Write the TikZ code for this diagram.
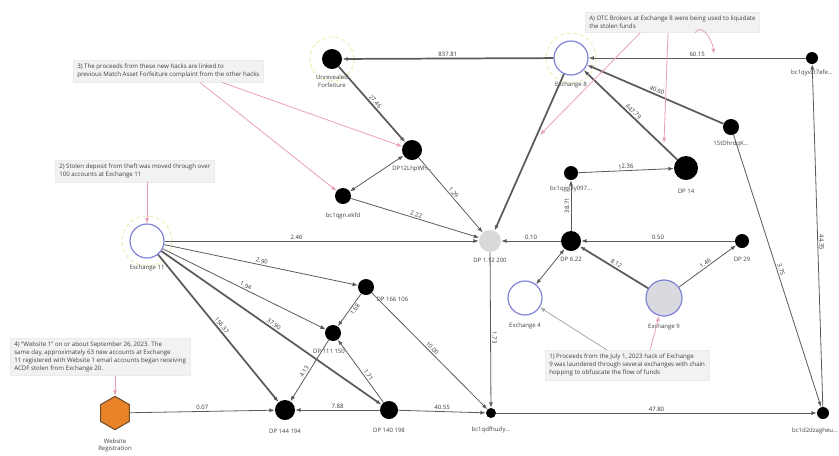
\documentclass[tikz,border=0pt]{standalone}
\usepackage{fontspec}
\setmainfont{Open Sans}
\usetikzlibrary{arrows.meta,shapes.geometric}
\definecolor{edgec}{HTML}{5A5A5A}
\definecolor{pinkl}{HTML}{E8A0B4}
\definecolor{exb}{HTML}{7F83D6}
\definecolor{haloc}{HTML}{F0EEB8}
\definecolor{hexo}{HTML}{E8832A}
\definecolor{notebg}{HTML}{F2F2F2}
\definecolor{gfill}{HTML}{D9D9DF}
\begin{document}
\begin{tikzpicture}[x=0.75pt,y=-0.75pt,
 dot/.style={circle,fill=black,inner sep=0pt,minimum size=#1},
 exc/.style={circle,draw=exb,line width=0.9pt,fill=white,inner sep=0pt,minimum size=25.5pt},
 nl/.style={font=\fontsize{4.5}{5.5}\selectfont,text=black!75,align=center},
 e/.style={draw=edgec,line width=0.6pt,-{Latex[length=4pt,width=3pt]}},
 et/.style={e,line width=1.3pt},
 el/.style={font=\fontsize{4.5}{5}\selectfont,sloped,above,inner sep=1pt,text=black!80},
 note/.style={fill=notebg,draw=black!8,font=\fontsize{4.6}{5.8}\selectfont,align=left,anchor=north west,inner sep=3pt,text=black!75},
 pk/.style={draw=pinkl,line width=0.6pt,-{Latex[length=4pt,width=3pt]}},
 halo/.style={draw=haloc,line width=0.8pt,dash pattern=on 3pt off 2pt}
]
\useasboundingbox (0,0) rectangle (839,455);

% halos
\draw[halo] (332,59) circle (22);
\draw[halo] (571,58) circle (25);
\draw[halo] (147,241) circle (25);

% nodes
\node[dot=15pt,label={[nl,label distance=1pt]below:Unrevealed\\Forfeiture}] (forf) at (332,59) {};
\node[exc,label={[nl,label distance=1pt]below:Exchange 8}] (ex8) at (571,58) {};
\node[dot=9pt,label={[nl,label distance=1pt]below:bc1qyvzt7efe...}] (yv) at (812,58) {};
\node[dot=12pt,label={[nl,label distance=1pt]below:15tDhrdqK...}] (td) at (731,127) {};
\node[dot=18pt,label={[nl,label distance=3pt]below:DP 14}] (dp14) at (686,168) {};
\node[dot=15pt,label={[nl,label distance=1pt]below:DP12LhpWh...}] (dp12) at (412,150) {};
\node[dot=12pt,label={[nl,label distance=3pt]below:bc1qgn.ekfd}] (gn) at (343,196) {};
\node[circle,fill=black!15,inner sep=0pt,minimum size=16.5pt,label={[nl,label distance=1pt]below:DP 1.12 200}] (dp112) at (490,241) {};
\node[dot=10.5pt,label={[nl,label distance=1pt]below:bc1qgg3y097...}] (gg) at (571,173) {};
\node[dot=15pt,label={[nl,label distance=1pt]below:DP 6.22}] (dp622) at (571,241) {};
\node[dot=10.5pt,label={[nl,label distance=3pt]below:DP 29}] (dp29) at (742,241) {};
\node[exc,label={[nl,label distance=2pt]below:Exchange 4}] (ex4) at (525,298) {};
\node[exc,fill=gfill,minimum size=27pt,label={[nl,label distance=2pt]below:Exchange 9}] (ex9) at (664,298) {};
\node[exc,label={[nl,label distance=1pt]below:Exchange 11}] (ex11) at (147,241) {};
\node[dot=12pt,label={[nl,label distance=0pt]below right:DP 166 106}] (dp166) at (366,287) {};
\node[dot=12pt,label={[nl,label distance=2pt,xshift=-3pt]below:DP 111 150}] (dp111) at (333,333) {};
\node[dot=15pt,label={[nl,label distance=3pt]below:DP 144 194}] (dp144) at (285,410) {};
\node[dot=13.5pt,label={[nl,label distance=3pt]below:DP 140 198}] (dp140) at (389,410) {};
\node[dot=7.5pt,label={[nl,label distance=3pt]below:bc1qdfhuzly...}] (bdf) at (491,413) {};
\node[dot=9pt,label={[nl,label distance=3pt,xshift=-6pt]below:bc1d2dzagheu...}] (bd2) at (823,413) {};
\node[regular polygon,regular polygon sides=6,shape border rotate=30,minimum size=25pt,inner sep=0pt,fill=hexo,draw=brown!60!black,line width=0.8pt,label={[nl,label distance=3pt]below:Website\\Registration}] (web) at (115,413) {};

% edges
\draw[et] (ex8) -- node[el]{837.81} (forf);
\draw[e] (yv) -- node[el]{60.15} (ex8);
\draw[e] (bd2) -- node[el,pos=0.48]{44.35} (yv);
\draw[et] (td) -- node[el]{40.60} (ex8);
\draw[e] (td) -- node[el]{3.75} (bd2);
\draw[et] (dp14) -- node[el]{447.79} (ex8);
\draw[et] (ex8) -- (dp112);
\draw[et] (forf) -- node[el]{27.46} (dp12);
\draw[e,{Latex[length=4pt,width=3pt]}-{Latex[length=4pt,width=3pt]}] (gn) -- (dp12);
\draw[e] (dp12) -- node[el]{1.29} (dp112);
\draw[e] (gn) -- node[el]{2.22} (dp112);
\draw[e] (ex11) -- node[el,pos=0.42]{2.46} (dp112);
\draw[e] (dp622) -- node[el]{0.10} (dp112);
\draw[e] (dp112) -- node[el,pos=0.55]{1.73} (bdf);
\draw[e] (dp622) -- node[el]{38.71} (gg);
\draw[e] (gg) -- node[el]{12.36} (dp14);
\draw[e] (dp29) -- node[el]{0.50} (dp622);
\draw[e,{Latex[length=4pt,width=3pt]}-{Latex[length=4pt,width=3pt]}] (dp622) -- (ex4);
\draw[et] (ex9) -- node[el]{8.12} (dp622);
\draw[e] (ex9) -- node[el]{1.46} (dp29);
\draw[e] (ex11) -- node[el]{2.90} (dp166);
\draw[e] (ex11) -- node[el]{1.94} (dp111);
\draw[et] (ex11) -- node[el]{156.37} (dp144);
\draw[et] (ex11) -- node[el]{37.90} (dp140);
\draw[e] (dp166) -- node[el,pos=0.4,below]{1.68} (dp111);
\draw[e] (dp166) -- node[el]{10.00} (bdf);
\draw[e] (dp111) -- node[el,pos=0.55]{4.13} (dp144);
\draw[e] (dp140) -- node[el,pos=0.4]{1.71} (dp111);
\draw[e] (dp140) -- node[el]{7.88} (dp144);
\draw[e] (dp140) -- node[el]{40.55} (bdf);
\draw[e] (web) -- node[el]{0.07} (dp144);
\draw[e] (bdf) -- node[el]{47.80} (bd2);

% notes
\node[note] (n3) at (73,60) {3) The proceeds from these new hacks are linked to\\previous Match Asset Forfeiture complaint from the other hacks};
\node[note] (nA) at (585,12) {A) OTC Brokers at Exchange 8 were being used to liquidate\\the stolen funds};
\node[note] (n2) at (55,160) {2) Stolen deposit from theft was moved through over\\100 accounts at Exchange 11};
\node[note] (n4) at (10,338) {4) ``Website 1'' on or about September 26, 2023. The\\same day, approximately 63 new accounts at Exchange\\11 registered with Website 1 email accounts began receiving\\ACDF stolen from Exchange 20.};
\node[note] (n1) at (545,350) {1) Proceeds from the July 1, 2023 hack of Exchange\\9 was laundered through several exchanges with chain\\hopping to obfuscate the flow of funds};

% annotation pointers
\coordinate (a1) at (540,135);
\coordinate (a2) at (664,143);
\coordinate (a3) at (714,54);
\draw[pk] (n3.south west) ++(127,0) -- (gn);
\draw[pk] (n3.south west) ++(149,0) -- (dp12);
\draw[pk] (nA.south west) ++(55,0) -- (a1);
\draw[pk] (nA.south west) ++(83,0) -- (a2);
\draw[pk] (nA.south west) ++(110,0) .. controls (700,22) and (712,38) .. (a3);
\draw[pk] (n2.south west) ++(92,0) -- (ex11);
\draw[pk] (n4.south west) ++(105,0) -- (web);
\draw[pk] (n1.north west) ++(105,0) -- (ex9);
\draw[pk,draw=black!35] (n1.north west) ++(62,0) -- (ex4);
\end{tikzpicture}
\end{document}
